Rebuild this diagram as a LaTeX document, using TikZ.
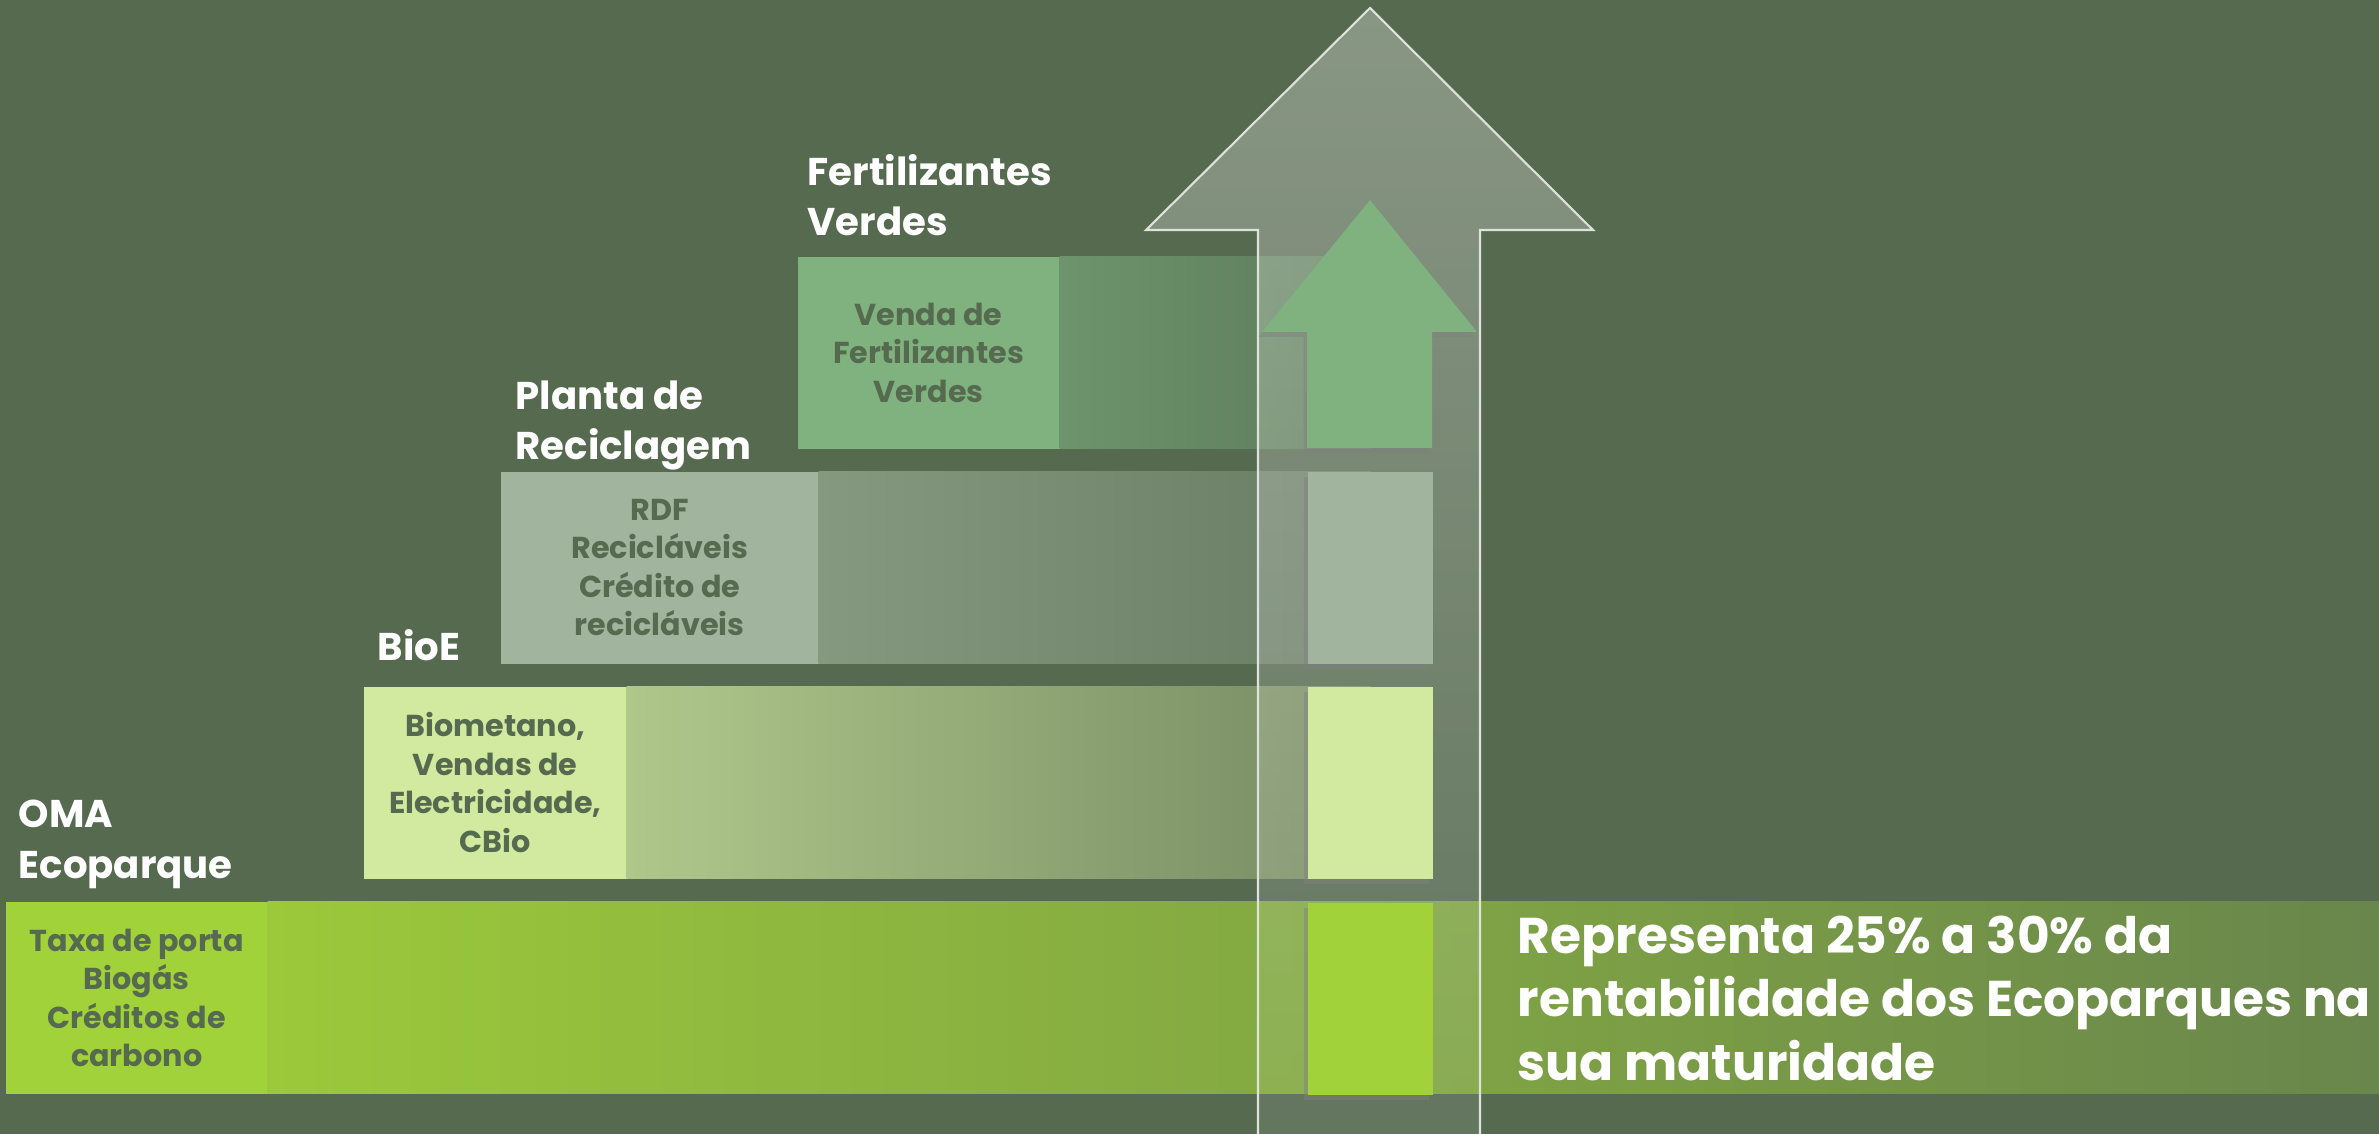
\documentclass[tikz,border=0pt]{standalone}
\usepackage{fontspec}
\setmainfont{Poppins}
\usepackage{tikz}
\usetikzlibrary{positioning}
\usetikzlibrary{shadows,fadings}

\definecolor{bg}{RGB}{86,106,80}
\definecolor{fertgreen}{RGB}{127,178,127}
\definecolor{plantagray}{RGB}{160,180,158}
\definecolor{bioelight}{RGB}{210,234,160}
\definecolor{omalime}{RGB}{162,210,58}
\definecolor{rimgray}{RGB}{222,226,220}

\tikzfading[name=arrowfade, top color=transparent!70, bottom color=transparent!92]

\tikzset{
    font={\fontsize{8pt}{11}\selectfont\bfseries},
    box/.style={
           rectangle,
           minimum width=26.2mm,
           minimum height=19.2mm,
           inner sep=0pt,
           text=bg,
           align=center,
           anchor=north west,
           font={\fontsize{8.6pt}{10.95pt}\selectfont\bfseries},
           },
    bar/.style={
           rectangle,
           minimum height=19.2mm,
           inner sep=0pt,
           },
    tile/.style={
           rectangle,
           minimum width=12.5mm,
           minimum height=19.2mm,
           inner sep=0pt,
           anchor=north west,
           drop shadow={shadow xshift=-1pt, shadow yshift=-1.4pt, opacity=0.45},
           },
    title/.style={
           text=white,
           inner sep=0pt,
           align=left,
           anchor=base west,
           font={\fontsize{11pt}{14.5pt}\selectfont\bfseries},
           },
    note/.style={
           text=white,
           inner sep=0pt,
           align=left,
           anchor=base west,
           font={\fontsize{14.3pt}{18pt}\selectfont\bfseries},
           },
}

\begin{document}
\begin{tikzpicture}[x=0.1mm,y=-0.1mm]

\useasboundingbox (0,0) rectangle (2379,1134);
\fill[bg] (0,0) rectangle (2379,1134);

% Row: OMA Ecoparque
\node[box, fill=omalime] (OMA) at (5,901) {Taxa de porta\\Biogás\\Créditos de\\carbono};
\node[bar, right=-0.4pt of OMA, minimum width=211.2mm,
      left color={rgb,255:red,155;green,201;blue,58},
      middle color={rgb,255:red,128;green,166;blue,66},
      right color={rgb,255:red,105;green,134;blue,76}] (OMABAR) {};

% Row: BioE
\node[box, fill=bioelight, minimum width=26.3mm] (BIOE) at (363,686) {Biometano,\\Vendas de\\Electricidade,\\CBio};
\node[bar, right=-0.4pt of BIOE, minimum width=74.4mm,
      left color={rgb,255:red,176;green,199;blue,139},
      right color={rgb,255:red,118;green,138;blue,98}] (BIOEBAR) {};

% Row: Planta de Reciclagem
\node[box, fill=plantagray, minimum width=31.8mm] (PLANTA) at (500,471) {RDF\\Recicláveis\\Crédito de\\recicláveis};
\node[bar, right=-0.4pt of PLANTA, minimum width=55.2mm,
      left color={rgb,255:red,133;green,152;blue,128},
      right color={rgb,255:red,104;green,124;blue,99}] (PLANTABAR) {};

% Row: Fertilizantes Verdes
\node[box, fill=fertgreen] (FERT) at (797,256) {Venda de\\Fertilizantes\\Verdes};
\node[bar, right=-0.4pt of FERT, minimum width=31.1mm,
      left color={rgb,255:red,109;green,148;blue,108},
      right color={rgb,255:red,92;green,122;blue,90}] (FERTBAR) {};

% big arrow
\fill[white, path fading=arrowfade] (1258,1134) -- (1258,230) -- (1146,230) -- (1370,8)
    -- (1593,230) -- (1480,230) -- (1480,1134) -- cycle;
\draw[rimgray, line width=0.6pt] (1258,1134) -- (1258,230) -- (1146,230) -- (1370,8)
    -- (1593,230) -- (1480,230) -- (1480,1134);

% small arrow and tiles
\fill[fertgreen, drop shadow={shadow xshift=-1pt, shadow yshift=-1.4pt, opacity=0.45}]
    (1307,448) -- (1307,332) -- (1262,332) -- (1370,200) -- (1477,332)
    -- (1432,332) -- (1432,448) -- cycle;
\node[tile, fill=plantagray] (PLANTATILE) at (1307,471) {};
\node[tile, fill=bioelight] (BIOETILE) at (1307,686) {};
\node[tile, fill=omalime] (OMATILE) at (1307,902) {};

% titles (placed at the baseline of their last line)
\node[title] (FERTTITLE) at (807,236) {Fertilizantes\\Verdes};
\node[title] (PLANTATITLE) at (515,460) {Planta de\\Reciclagem};
\node[title] (BIOETITLE) at (377,660) {BioE};
\node[title] (OMATITLE) at (18,878) {OMA\\Ecoparque};

\node[note] (NOTE) at (1517,1080) {Representa 25\% a 30\% da\\rentabilidade dos Ecoparques na\\sua maturidade};

\end{tikzpicture}
\end{document}
